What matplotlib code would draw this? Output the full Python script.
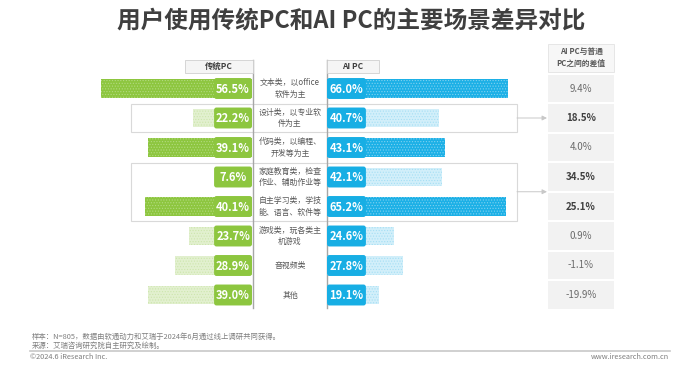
import matplotlib
matplotlib.use("Agg")
import matplotlib.pyplot as plt
from matplotlib.patches import Rectangle, FancyBboxPatch

plt.rcParams['font.family'] = ['Noto Sans CJK SC', 'DejaVu Sans']
plt.rcParams['hatch.linewidth'] = 0.5

# ---------------- data ----------------
categories = ["文本类，以office\n软件为主", "设计类，以专业软\n件为主", "代码类，以编程、\n开发等为主",
              "家庭教育类，检查\n作业、辅助作业等", "自主学习类，学技\n能、语言、软件等",
              "游戏类，玩各类主\n机游戏", "音视频类", "其他"]
traditional_pc = [56.5, 22.2, 39.1, 7.6, 40.1, 23.7, 28.9, 39.0]
ai_pc = [66.0, 40.7, 43.1, 42.1, 65.2, 24.6, 27.8, 19.1]
difference = [9.4, 18.5, 4.0, 34.5, 25.1, 0.9, -1.1, -19.9]
highlight_rows = [1, 3, 4]
title = "用户使用传统PC和AI PC的主要场景差异对比"
left_header = "传统PC"
right_header = "AI PC"
diff_header = "AI PC与普通\nPC之间的差值"
note_lines = ["样本：N=805，数据由软通动力和艾瑞于2024年6月通过线上调研共同获得。",
              "来源：艾瑞咨询研究院自主研究及绘制。"]
copyright_text = "©2024.6 iResearch Inc."
website_text = "www.iresearch.com.cn"

# ---------------- layout ----------------
W, H = 700, 366
fig = plt.figure(figsize=(W / 100, H / 100), dpi=100)
fig.patch.set_facecolor("white")

def frac(x0, y0, w, h):
    return [x0 / W, 1 - (y0 + h) / H, w / W, h / H]

n = len(categories)
row0, step = 88.5, 29.5
ytop = row0 - step / 2
ax_h = step * n

ov = fig.add_axes([0, 0, 1, 1])
ov.set_xlim(0, W)
ov.set_ylim(H, 0)
ov.axis("off")
ov.set_zorder(0)

# title
ov.text(351, 20, title, ha="center", va="center", fontsize=17, fontweight="bold", color="#3F3F3F")

def rowy(i):
    return row0 + step * i

# outline boxes for highlighted groups
groups = [(1, 1), (3, 4)]
for a, b in groups:
    top = rowy(a) - 14
    bot = rowy(b) + 14
    ov.add_patch(Rectangle((131, top), 517 - 131, bot - top, facecolor="white",
                           edgecolor="#D9D9D9", lw=0.8, zorder=1))
    ymid = (rowy(a) + rowy(b)) / 2
    ov.annotate("", xy=(547, ymid), xytext=(517, ymid),
                arrowprops=dict(arrowstyle="-|>", color="#C8C8C8", lw=0.7,
                                mutation_scale=7, shrinkA=0, shrinkB=0), zorder=2)

# vertical lines and headers
for x in (253, 327):
    ov.plot([x, x], [60, 308], color="#A6A6A6", lw=1.0, zorder=3)
ov.add_patch(Rectangle((185, 60), 253 - 185, 13, facecolor="#F5F5F5", edgecolor="#D0D0D0", lw=0.6, zorder=3))
ov.text(219, 66.5, left_header, ha="center", va="center", fontsize=6, fontweight="bold", color="#404040", zorder=4)
ov.add_patch(Rectangle((327, 60), 379 - 327, 13, facecolor="#F5F5F5", edgecolor="#D0D0D0", lw=0.6, zorder=3))
ov.text(353, 66.5, right_header, ha="center", va="center", fontsize=6, fontweight="bold", color="#404040", zorder=4)

# footer
ov.text(32, 337, note_lines[0], ha="left", va="center", fontsize=5.3, color="#7F7F7F")
ov.text(32, 346, note_lines[1], ha="left", va="center", fontsize=5.3, color="#7F7F7F")
ov.plot([30, 670], [350.5, 350.5], color="#C8C8C8", lw=1.2)
ov.text(30, 357, copyright_text, ha="left", va="center", fontsize=5.3, color="#7F7F7F")
ov.text(669, 357, website_text, ha="right", va="center", fontsize=5.3, color="#7F7F7F")

# ---------------- bar axes ----------------
lscale, rscale = 2.67, 2.74
lmax, rmax = 60, 70
axL = fig.add_axes(frac(252 - lscale * lmax, ytop, lscale * lmax, ax_h))
axR = fig.add_axes(frac(327, ytop, rscale * rmax, ax_h))
axT = fig.add_axes(frac(548, ytop, 66, ax_h))
for ax in (axL, axR, axT):
    ax.set_zorder(2)
    ax.patch.set_alpha(0)
    ax.axis("off")
    ax.set_ylim(n - 0.5, -0.5)
axL.set_xlim(lmax, 0)
axR.set_xlim(0, rmax)
axT.set_xlim(0, 1)

dark_rows = [0, 2, 4]
green, blue = "#8DC63F", "#17AEE4"
box_w = 14.2
ys = list(range(n))

def draw_side(ax, vals, box_color, dark_face, dark_hatch, light_face, light_hatch, scale):
    faces = [dark_face if i in dark_rows else light_face for i in ys]
    hatches = [dark_hatch if i in dark_rows else light_hatch for i in ys]
    bars = ax.barh(ys, vals, height=0.62, color=faces, lw=0)
    for b, hc in zip(bars, hatches):
        b.set_hatch("......")
        b.set_edgecolor(hc)
        b.set_linewidth(0)
    asp = (1 / step) / (1 / scale)
    for i, v in zip(ys, vals):
        ax.add_patch(FancyBboxPatch((0, i - 0.355), box_w, 0.71,
                                    boxstyle="round,pad=0,rounding_size=0.9",
                                    mutation_aspect=asp, facecolor=box_color, edgecolor="none", zorder=3))
        ax.text(box_w / 2, i + 0.02, f"{v:.1f}%", ha="center", va="center", fontsize=8,
                fontweight="bold", color="white", zorder=4)

draw_side(axL, traditional_pc, green, "#8DC63F", "#B3DA80", "#E2F0CF", "#CDE6AD", lscale)
draw_side(axR, ai_pc, blue, "#1CB0E6", "#7FD1F1", "#D2EFFA", "#A6DFF4", rscale)

# category labels
for i, c in enumerate(categories):
    ov.text(290, rowy(i), c, ha="center", va="center", fontsize=5.7, color="#595959",
            linespacing=1.35, zorder=5)

# difference table
axT.add_patch(Rectangle((0, -0.5 - 27.5 / step - 0.06), 1, 27.5 / step, facecolor="#F7F7F7",
                        edgecolor="#E3E3E3", lw=0.6, clip_on=False))
axT.text(0.5, -0.5 - 14.5 / step - 0.06, diff_header, ha="center", va="center", fontsize=5.6,
         fontweight="bold", color="#595959", linespacing=1.35, clip_on=False)
axT.barh(ys, [1] * n, height=0.94, color="#F2F2F2", lw=0)
for i, d in enumerate(difference):
    axT.text(0.5, i, f"{d:.1f}%", ha="center", va="center", fontsize=7,
             fontweight="bold" if i in highlight_rows else "normal",
             color="#404040" if i in highlight_rows else "#6B6B6B")

fig.savefig("out.png", dpi=100, facecolor="white")
